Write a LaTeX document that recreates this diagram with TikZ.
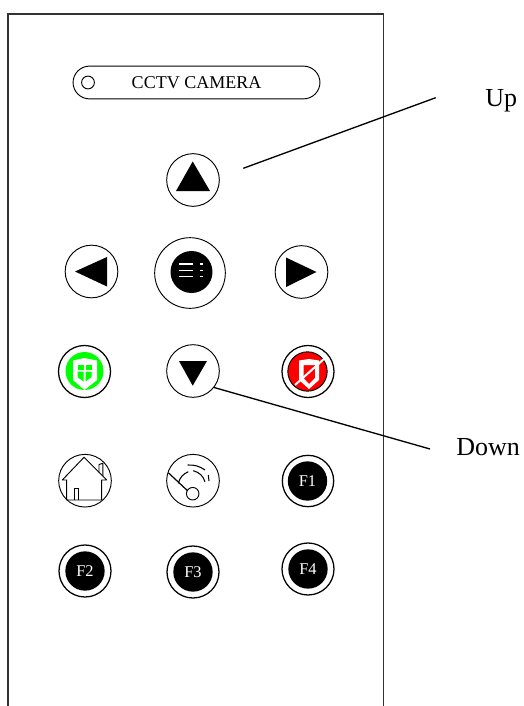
\documentclass[tikz,border=0pt]{standalone}
\usepackage{fontspec}
\setmainfont{Liberation Serif}
\tikzset{
  outline/.style={draw=black,line width=0.7pt},
  btn/.style={circle,outline,fill=white,inner sep=0pt,minimum size=39.5pt},
  ringbtn/.style={btn,line width=0.95pt,minimum size=39pt},
  disc/.style={circle,draw=none,inner sep=0pt,minimum size=29.5pt},
  fkey/.style={disc,fill=black,text=white,font=\fontsize{12.3}{14}\selectfont},
  connector/.style={draw=black,line width=1pt},
  callout/.style={font=\fontsize{19.5}{22}\selectfont,inner sep=0pt},
  arrowglyph/.style={fill=black,draw=none},
  knock/.style={fill=white,draw=none},
  dishwave/.style={draw=black,line width=0.8pt},
}
\begin{document}
\begin{tikzpicture}[x=0.75pt,y=-0.75pt]
\useasboundingbox (0,0) rectangle (524,706);
\fill[white] (0,0) rectangle (524,706);
\begin{scope}
\clip (0,0) rectangle (524,706);
% panel
\draw[draw=black!80,line width=0.8pt] (8,712) -- (8,14) -- (383.2,14) -- (383.2,712);
\end{scope}
% title pill
\node[outline,rounded corners=12.4pt,minimum width=185.2pt,minimum height=24.6pt,inner sep=0pt] (pill) at (196.5,82.5) {};
\node[circle,outline,inner sep=0pt,minimum size=9.6pt] (led) at (88,82.5) {};
\node[font=\fontsize{13.5}{16}\selectfont,inner sep=0pt] (title) at (196.5,82.5) {CCTV CAMERA};
% arrows row
\node[btn] (up) at (193,180) {};
\fill[arrowglyph] (192.7,161.5) -- (210,191) -- (176,191) -- cycle;
\node[btn] (left) at (91.5,271.5) {};
\fill[arrowglyph] (75,271.5) -- (107,257) -- (107,286.5) -- cycle;
\node[btn,minimum size=53pt] (menu) at (190,273) {};
\node[disc,fill=black,minimum size=31.5pt] (menucore) at (191.5,272) {};
\foreach \yy in {264,270.3,276.7}{
  \draw[white,line width=1.1pt] (179,\yy) -- (193,\yy);
  \draw[white,line width=1.1pt] (199.5,\yy) -- (203,\yy);
}
\node[btn] (right) at (301.5,272) {};
\fill[arrowglyph] (316.5,272) -- (286,257.5) -- (286,287) -- cycle;
% shield row
\node[ringbtn] (arm) at (84.5,371.5) {};
\node[disc,fill=green,minimum size=28.5pt] (armcore) at (84.5,371) {};
\fill[knock] (73,360.5) -- (84.5,358) -- (97,360.5) -- (97,380) -- (84.5,390) -- (73,380) -- cycle;
\fill[green] (77.5,365) rectangle (83.5,370);
\fill[green] (85.5,365) rectangle (91.5,370);
\fill[green] (77.5,371.5) -- (83.5,371.5) -- (83.5,381.5) -- (77.5,377) -- cycle;
\fill[green] (85.5,371.5) -- (91.5,371.5) -- (91.5,377) -- (85.5,381.5) -- cycle;
\node[btn] (down) at (193,371) {};
\fill[arrowglyph] (179,361) -- (207,361) -- (192.7,385.7) -- cycle;
\node[ringbtn] (disarm) at (308,371.5) {};
\node[circle,fill=red,draw=black,line width=0.7pt,inner sep=0pt,minimum size=29.5pt] (disarmcore) at (307.5,371.5) {};
\fill[knock,even odd rule] (299,360.5) -- (309,359) -- (319,360.5) -- (319,380) -- (309,389) -- (299,380) -- cycle
  (303.5,365) -- (315,365) -- (315,378) -- (309,384) -- (303.5,378) -- cycle;
\draw[white,line width=1.5pt] (295,385) -- (325,358);
% home row
\node[btn] (home) at (85,480.7) {};
\draw[line width=0.7pt,line join=round] (66.7,500) -- (66.7,480) -- (62.3,480) -- (84,457.3) -- (106.7,480) -- (101.7,480) -- (101.7,500) -- cycle;
\draw[line width=0.7pt] (99,472.5) -- (99,464.5) -- (102.8,463.3) -- (102.8,476);
\draw[line width=0.7pt] (74.3,500) -- (74.3,488.3) -- (78.3,488.3) -- (78.3,500);
\node[btn] (dish) at (193,480.7) {};
\node[circle,outline,inner sep=0pt,minimum size=9.4pt] (dishhub) at (192.7,493.7) {};
\draw[line width=0.9pt] (168.3,472.7) -- (187.3,490.5);
\draw[dishwave] (178.3,483.3) to[bend left=25] (188.3,471.7);
\draw[dishwave] (193.3,470.7) to[bend left=28] (205,481.7);
\draw[dishwave] (187.7,465) to[bend left=18] (205,470);
\draw[dishwave] (208.3,475) to[bend left=12] (209,481);
\node[ringbtn,minimum size=38.5pt] (f1) at (308,481) {};
\node[fkey] (f1core) at (307.5,481) {F1};
% function row
\node[ringbtn] (f2) at (85,571) {};
\node[fkey] (f2core) at (85,571) {F2};
\node[ringbtn] (f3) at (193,572) {};
\node[fkey] (f3core) at (193,572) {F3};
\node[ringbtn] (f4) at (308,569) {};
\node[fkey] (f4core) at (308,569) {F4};
% callouts
\coordinate (upstart) at (243.3,168.3);
\coordinate (upend) at (435.7,97.7);
\coordinate (downend) at (430,449);
\node[callout,anchor=base west] (uplabel) at (485,106.5) {Up};
\node[callout,anchor=base west] (downlabel) at (456,455) {Down};
\draw[connector] (upstart) -- (upend);
\draw[connector] (down.-38) -- (downend);
\end{tikzpicture}
\end{document}
